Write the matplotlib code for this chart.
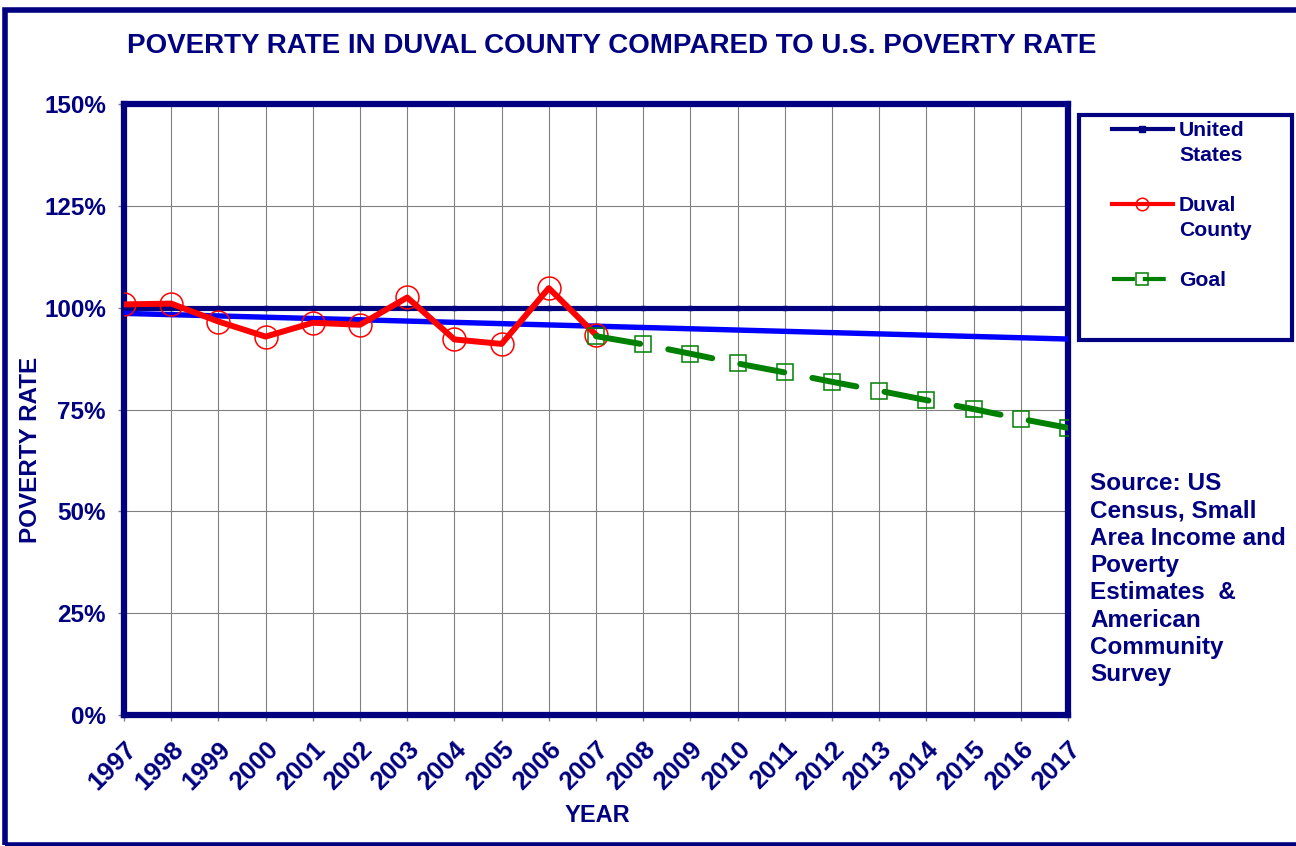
import matplotlib
matplotlib.use("Agg")
import matplotlib.pyplot as plt
from matplotlib.patches import Rectangle
from matplotlib.lines import Line2D

plt.rcParams['font.family'] = ['Liberation Sans', 'DejaVu Sans']

years = list(range(1997, 2018))
year_labels = [str(y) for y in years]
duval_years = list(range(1997, 2008))
duval = [100.8, 101.0, 96.6, 92.9, 96.3, 95.8, 102.5, 92.2, 91.1, 104.8, 93.3]
us_years = list(range(1997, 2018))
us = [100.0] * len(us_years)
trend_years = [1997, 2017]
trend = [98.6, 92.3]
goal_years = list(range(2007, 2018))
goal = [93.0, 91.0, 88.7, 86.3, 84.1, 81.8, 79.6, 77.3, 75.1, 72.7, 70.5]
yticks = [0, 25, 50, 75, 100, 125, 150]
ytick_labels = ['0%', '25%', '50%', '75%', '100%', '125%', '150%']
legend_labels = ['United\nStates', 'Duval\nCounty', 'Goal']
source_text = ('Source: US\nCensus, Small\nArea Income and\nPoverty\n'
               'Estimates  &\nAmerican\nCommunity\nSurvey')

NAVY = '#000080'
RED = '#FF0000'
GREEN = '#008000'
BLUE = '#0000FF'
W, H = 1296, 846
fig = plt.figure(figsize=(W / 100, H / 100), dpi=100)


def fx(px):
    return px / W


def fy(py):
    return 1 - py / H


# Figure border
fig.patches.append(Rectangle((fx(5), fy(845)), fx(1310 - 5), (845 - 10) / H,
                             transform=fig.transFigure, fill=False,
                             edgecolor=NAVY, linewidth=4, clip_on=False))

ax = fig.add_axes([fx(124), fy(715), (1068 - 124) / W, (715 - 104) / H])

ax.plot(us_years, us, color=NAVY, linewidth=3.7, marker='s', markersize=3, zorder=3)
ax.plot(trend_years, trend, color=BLUE, linewidth=3.9, zorder=4)
ax.plot(duval_years, duval, color=RED, linewidth=4.3, marker='o', markersize=16.5,
        markerfacecolor='none', markeredgecolor=RED, markeredgewidth=1.1, zorder=5)
ax.plot(goal_years, goal, color=GREEN, linewidth=4.3, linestyle=(0, (7.5, 4.8)),
        dash_capstyle='round', marker='s', markersize=12, markerfacecolor='none',
        markeredgecolor=GREEN, markeredgewidth=1.1, zorder=6)

ax.set_xlim(1997, 2017)
ax.set_ylim(0, 150)
ax.set_xticks(years)
ax.set_xticklabels(year_labels, rotation=45, ha='right', va='top', rotation_mode='anchor',
                   fontsize=18.5, fontweight='bold', color=NAVY)
ax.set_yticks(yticks)
ax.set_yticklabels(ytick_labels, fontsize=17.5, fontweight='bold', color=NAVY)
ax.tick_params(axis='both', direction='out', length=4, width=1, color='#808080')
ax.tick_params(axis='y', pad=9)
ax.tick_params(axis='x', pad=12)
ax.grid(True, color='#808080', linewidth=0.8)
ax.set_axisbelow(True)
for s in ax.spines.values():
    s.set_color(NAVY)
    s.set_linewidth(4.5)

ax.set_ylabel('POVERTY RATE', fontsize=17.5, fontweight='bold', color=NAVY)
ax.yaxis.set_label_coords((31 - 124) / (1068 - 124), (715 - 450) / (715 - 104))
ax.set_xlabel('YEAR', fontsize=17, fontweight='bold', color=NAVY)
ax.xaxis.set_label_coords((597 - 124) / (1068 - 124), -(815 - 715) / (715 - 104))
ax.xaxis.label.set_va('center')
ax.yaxis.label.set_va('center')

fig.text(fx(612), fy(46), 'POVERTY RATE IN DUVAL COUNTY COMPARED TO U.S. POVERTY RATE',
         ha='center', va='center', fontsize=20, fontweight='bold', color=NAVY)

# Legend (drawn manually to match layout)
fig.patches.append(Rectangle((fx(1079), fy(340)), fx(1292 - 1079), (340 - 115) / H,
                             transform=fig.transFigure, fill=False,
                             edgecolor=NAVY, linewidth=3, clip_on=False))
handle_styles = [
    dict(color=NAVY, linewidth=3, marker='s', markersize=4),
    dict(color=RED, linewidth=3, marker='o', markersize=9, markerfacecolor='none',
         markeredgewidth=1.1),
    dict(color=GREEN, linewidth=3, linestyle=(0, (5.5, 1.9)), marker='s', markersize=9,
         markerfacecolor='none', markeredgewidth=1.1),
]
handle_y = [129, 204, 279]
text_top = [121, 196, 271]
for lab, st, yy, ty in zip(legend_labels, handle_styles, handle_y, text_top):
    fig.lines.append(Line2D([fx(1112), fx(1142), fx(1173)], [fy(yy)] * 3,
                            transform=fig.transFigure, markevery=[1], **st))
    fig.text(fx(1179), fy(ty), lab, ha='left', va='top', fontsize=15.2,
             fontweight='bold', color=NAVY, linespacing=1.42)

fig.text(fx(1090), fy(472), source_text, ha='left', va='top', fontsize=17.5,
         fontweight='bold', color=NAVY, linespacing=1.24)

fig.savefig('out.png', dpi=100, facecolor='white')
